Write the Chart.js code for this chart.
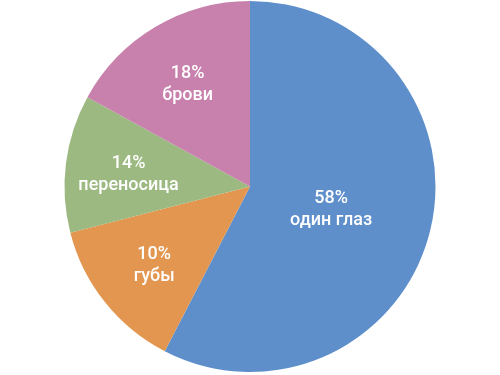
<!DOCTYPE html>
<html>
<head>
<meta charset="utf-8">
<script src="https://cdn.jsdelivr.net/npm/chart.js@4"></script>
<style>
  html, body { margin: 0; padding: 0; background: #fff; }
  canvas { display: block; }
</style>
</head>
<body>
<canvas id="pieChart" width="500" height="375"></canvas>
<script>
// slice sizes; label texts as printed on it
const categories = ['один глаз', 'губы', 'переносица', 'брови'];
const sliceValues = [57.6, 13.4, 12.0, 17.0];
const percentLabels = ['58%', '10%', '14%', '18%'];
const sliceColors = ['#5E8FCB', '#E3964F', '#9BB981', '#C880AD'];

// --- labels drawn inside each slice ---
const insideLabels = {
    id: 'insideLabels',
    afterDatasetsDraw(chart) {
        const ctx = chart.ctx;
        const arcs = chart.getDatasetMeta(0).data;
        ctx.save();
        ctx.fillStyle = '#ffffff';
        ctx.font = '500 18px Roboto, "Noto Sans", sans-serif';
        ctx.textAlign = 'center';
        ctx.textBaseline = 'middle';
        arcs.forEach((arc, i) => {
            const p = arc.getProps(['x', 'y', 'startAngle', 'endAngle', 'outerRadius'], true);
            const mid = (p.startAngle + p.endAngle) / 2;
            // big slice keeps its label nearer the centre
            const frac = (p.endAngle - p.startAngle) > Math.PI ? 0.45 : 0.66;
            const r = p.outerRadius * frac;
            const x = p.x + Math.cos(mid) * r;
            const y = p.y + Math.sin(mid) * r + 3;
            ctx.fillText(percentLabels[i], x, y - 11);
            ctx.fillText(categories[i], x, y + 11);
        });
        ctx.restore();
    }
};

new Chart(document.getElementById('pieChart'), {
    type: 'pie',
    data: {
        labels: categories,
        datasets: [{
            data: sliceValues,
            backgroundColor: sliceColors,
            borderWidth: 0
        }]
    },
    options: {
        responsive: false,
        animation: false,
        layout: { padding: { top: 1, bottom: 3 } },
        plugins: {
            legend: { display: false },
            tooltip: { enabled: false }
        }
    },
    plugins: [insideLabels]
});
</script>
</body>
</html>
